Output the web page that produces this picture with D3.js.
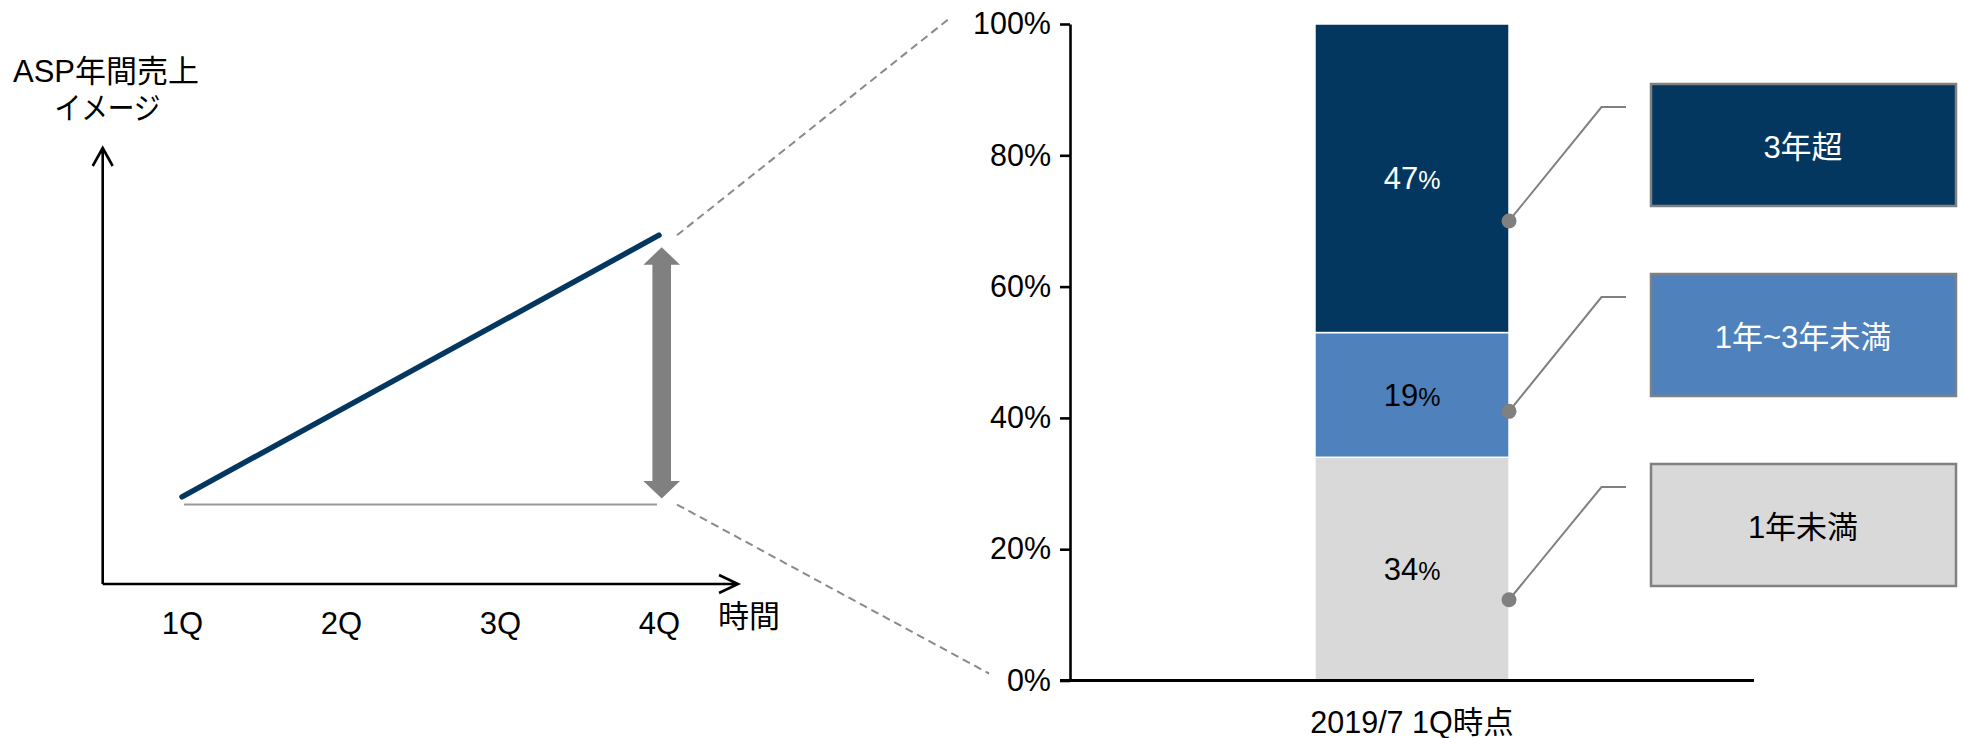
<!DOCTYPE html>
<html lang="ja">
<head>
<meta charset="utf-8">
<script src="https://cdn.jsdelivr.net/npm/d3@7"></script>
<style>
  html, body { margin: 0; padding: 0; background: #fff; }
  svg { display: block; font-family: "Liberation Sans", Arial, "Noto Sans CJK JP", sans-serif; }
</style>
</head>
<body>
<svg id="chart" width="1964" height="738"></svg>
<script>
// ---- data ----
const quarters = ["1Q", "2Q", "3Q", "4Q"];
const aspSales = [20, 40, 60, 80];          // ASP annual sales (illustrative index)
const aspBaseline = 18;                      // starting level carried flat
const tenureCategories = ["1年未満", "1年~3年未満", "3年超"];
const tenureShares = [34, 19, 47];           // % of customers at 2019/7 1Q
const barCategory = ["2019/7 1Q時点"];
const shareTicks = [0, 20, 40, 60, 80, 100];

// ---- styles ----
const tenureFill = ["#d9d9d9", "#4f81bd", "#03375f"];
const tenureText = ["#000", "#fff", "#fff"];
const labelText = ["#000", "#000", "#fff"];
const grey = "#808080";
const FONT = 31;

const svg = d3.select("#chart");

// ================= left: ASP sales image =================
const xL = d3.scalePoint().domain(quarters).range([182, 659]);
const yL = d3.scaleLinear().domain([0, 100]).range([584, 148]);
const axisX0 = 102.7, axisXEnd = 738;

const left = svg.append("g");

// axes with open arrowheads
left.append("path")
  .attr("d", `M${axisX0},${yL(0)}V${yL(100)}M${axisX0 - 10},${yL(100) + 18}L${axisX0},${yL(100)}L${axisX0 + 10},${yL(100) + 18}`)
  .attr("fill", "none").attr("stroke", "#000").attr("stroke-width", 2.6);
left.append("path")
  .attr("d", `M${axisX0},${yL(0)}H${axisXEnd}M${axisXEnd - 19},${yL(0) - 9}L${axisXEnd},${yL(0)}L${axisXEnd - 19},${yL(0) + 9}`)
  .attr("fill", "none").attr("stroke", "#000").attr("stroke-width", 2.6);

// quarter labels
const xAxisL = left.append("g")
  .attr("transform", `translate(0,${yL(0) + 38.5})`)
  .call(d3.axisBottom(xL).tickSize(0).tickPadding(0))
  .attr("font-family", null).attr("font-size", null);
xAxisL.select(".domain").remove();
xAxisL.selectAll("text")
  .attr("y", 0).attr("dy", "0.36em")
  .attr("font-size", FONT).attr("fill", "#000");

// axis titles
left.append("text").attr("x", 106).attr("y", 71).attr("dy", "0.36em")
  .attr("text-anchor", "middle").attr("font-size", FONT).text("ASP年間売上");
left.append("text").attr("x", 107.5).attr("y", 108).attr("dy", "0.36em")
  .attr("text-anchor", "middle").attr("font-size", FONT)
  .attr("textLength", 106).attr("lengthAdjust", "spacingAndGlyphs").text("イメージ");
left.append("text").attr("x", 718).attr("y", 616).attr("dy", "0.36em")
  .attr("font-size", FONT).text("時間");

// flat baseline
left.append("line")
  .attr("x1", xL("1Q") + 2).attr("x2", xL("4Q") - 2)
  .attr("y1", yL(aspBaseline) - 1).attr("y2", yL(aspBaseline) - 1)
  .attr("stroke", "#999").attr("stroke-width", 2);

// ASP sales line
left.append("path")
  .datum(aspSales)
  .attr("d", d3.line().x((d, i) => xL(quarters[i])).y(d => yL(d)))
  .attr("fill", "none").attr("stroke", "#03375f")
  .attr("stroke-width", 5.5).attr("stroke-linecap", "round");

// double-headed growth arrow
{
  const cx = xL("4Q") + 2.7;
  const top = yL(aspSales[3]) + 12, bot = yL(aspBaseline) - 7;
  const hw = 18.3, sw = 9.3, hl = 17.5;
  const pts = [
    [cx, top], [cx + hw, top + hl], [cx + sw, top + hl], [cx + sw, bot - hl],
    [cx + hw, bot - hl], [cx, bot], [cx - hw, bot - hl], [cx - sw, bot - hl],
    [cx - sw, top + hl], [cx - hw, top + hl]
  ];
  left.append("path").attr("d", "M" + pts.join("L") + "Z").attr("fill", grey);
}

// ================= right: tenure breakdown =================
const yR = d3.scaleLinear().domain([0, 100]).range([680.5, 24]);
const xR = d3.scaleBand().domain(barCategory).range([1070, 1754]).padding(0.558);
const axisRX = 1070;

// zoom guides from the arrow to the bar axis
const guides = svg.append("g")
  .attr("stroke", "#8a8a8a").attr("stroke-width", 2).attr("stroke-dasharray", "8,5").attr("fill", "none");
guides.append("line").attr("x1", 677).attr("y1", yL(aspSales[3])).attr("x2", 950).attr("y2", yR(100) - 6);
guides.append("line").attr("x1", 677).attr("y1", yL(aspBaseline) - 1).attr("x2", 989).attr("y2", yR(0) - 7);

const right = svg.append("g");

// stacked bar
const row = {};
tenureCategories.forEach((c, i) => row[c] = tenureShares[i]);
const series = d3.stack().keys(tenureCategories)([row]);

right.selectAll("rect.seg")
  .data(series)
  .join("rect")
  .attr("class", "seg")
  .attr("x", xR(barCategory[0]))
  .attr("width", xR.bandwidth())
  .attr("y", d => yR(d[0][1]))
  .attr("height", d => yR(d[0][0]) - yR(d[0][1]))
  .attr("fill", (d, i) => tenureFill[i])
  .attr("stroke", "#fff").attr("stroke-width", 1.5);

// value labels
const lbl = right.selectAll("text.val")
  .data(series)
  .join("text")
  .attr("class", "val")
  .attr("x", xR(barCategory[0]) + xR.bandwidth() / 2)
  .attr("y", d => (yR(d[0][0]) + yR(d[0][1])) / 2 + 5)
  .attr("dy", "0.36em")
  .attr("text-anchor", "middle")
  .attr("fill", (d, i) => labelText[i]);
lbl.append("tspan").attr("font-size", 31).text((d, i) => tenureShares[i]);
lbl.append("tspan").attr("font-size", 25).text("%");

// y axis
const yAxisR = right.append("g")
  .attr("transform", `translate(${axisRX},0)`)
  .call(d3.axisLeft(yR).tickValues(shareTicks).tickSize(10).tickSizeOuter(0).tickPadding(9).tickFormat(d => d + "%"))
  .attr("font-family", null).attr("font-size", null);
yAxisR.selectAll("path, line").attr("stroke", "#000").attr("stroke-width", 2.6);
yAxisR.selectAll("text").attr("font-size", 30.5).attr("fill", "#000");

// x axis
right.append("line")
  .attr("x1", axisRX - 10).attr("x2", 1754)
  .attr("y1", yR(0)).attr("y2", yR(0))
  .attr("stroke", "#000").attr("stroke-width", 2.8);
const xAxisR = right.append("g")
  .attr("transform", `translate(0,${yR(0) + 42})`)
  .call(d3.axisBottom(xR).tickSize(0).tickPadding(0))
  .attr("font-family", null).attr("font-size", null);
xAxisR.select(".domain").remove();
xAxisR.selectAll("text")
  .attr("y", 0).attr("dy", "0.36em")
  .attr("font-size", 30.5).attr("fill", "#000");

// legend boxes with callouts
const calloutAt = [12.3, 41, 70];      // anchor height on the bar, in % units
const boxX = 1651, boxW = 305, boxH = 122, boxTop0 = 464, boxStep = 190;
const barRight = xR(barCategory[0]) + xR.bandwidth();

tenureCategories.forEach((c, i) => {
  const top = boxTop0 - i * boxStep;
  const g = right.append("g");
  const ay = yR(calloutAt[i]);
  const ey = top + 23;
  g.append("path")
    .attr("d", `M${barRight},${ay}L${1601.5},${ey}H${1626}`)
    .attr("fill", "none").attr("stroke", grey).attr("stroke-width", 2);
  g.append("circle").attr("cx", barRight).attr("cy", ay).attr("r", 7.5).attr("fill", grey);
  g.append("rect")
    .attr("x", boxX).attr("y", top).attr("width", boxW).attr("height", boxH)
    .attr("fill", tenureFill[i]).attr("stroke", grey).attr("stroke-width", 2.5);
  g.append("text")
    .attr("x", boxX + boxW / 2 - 0.5).attr("y", top + boxH / 2 + 2).attr("dy", "0.36em")
    .attr("text-anchor", "middle").attr("font-size", FONT)
    .attr("fill", tenureText[i]).text(c);
});
</script>
</body>
</html>
